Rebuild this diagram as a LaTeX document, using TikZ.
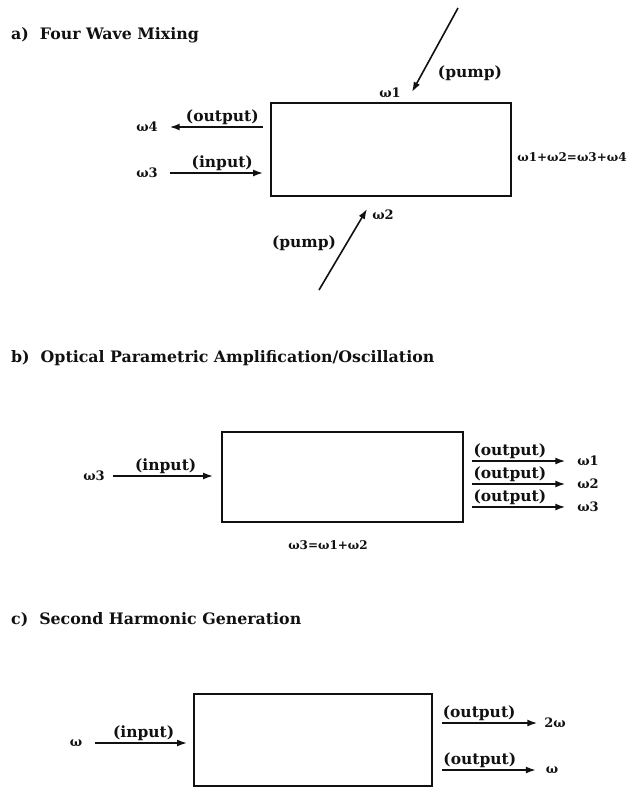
\documentclass[tikz,border=0pt]{standalone}
\usepackage{fontspec}
\setmainfont{DejaVu Serif}
\usetikzlibrary{arrows.meta, positioning}
\definecolor{ink}{HTML}{111111}
\tikzset{
  crystal/.style={draw=ink, line width=1.7pt, inner sep=0pt, outer sep=0pt},
  beam/.style={-{Latex[length=10pt, width=7pt]}, line width=1.6pt, draw=ink},
  ttl/.style={font=\fontsize{15.8}{18}\selectfont\bfseries, text=ink, anchor=west, inner sep=0pt},
  lbl/.style={font=\fontsize{15.5}{17}\selectfont\bfseries, text=ink, inner sep=1pt},
  wlbl/.style={font=\fontsize{13}{15}\selectfont\bfseries, text=ink, inner sep=0pt, outer sep=0pt},
  eqlbl/.style={font=\fontsize{12}{14}\selectfont\bfseries, text=ink, inner sep=0pt}
}
\begin{document}
\begin{tikzpicture}[x=1pt, y=-1pt]
  \useasboundingbox (0,0) rectangle (632,788);

  % ---- a) Four Wave Mixing ---------------------------------------------------
  \node[ttl] (ta) at (11,35) {a)\ \ Four Wave Mixing};
  \node[crystal, minimum width=240pt, minimum height=93pt] (boxA) at (391,149.5) {};
  \node[wlbl] (w4a) at (147,127) {ω4};
  \node[wlbl] (w3a) at (147,173) {ω3};
  \node[wlbl] (w1a) at (390,93) {ω1};
  \node[wlbl] (w2a) at (383,215) {ω2};
  \node[eqlbl] (eqa) at (572,157) {ω1+ω2=ω3+ω4};

  \draw[beam, shorten <=8pt, shorten >=12pt] (boxA.west |- w4a) --
        node[lbl, pos=0.43, above] {(output)} (w4a);
  \draw[beam, shorten <=12pt, shorten >=8pt] (w3a) --
        node[lbl, pos=0.57, above] {(input)} (boxA.west |- w3a);

  % ---- pump beams ------------------------------------------------------------
  \coordinate (pa1s) at (458,8);
  \coordinate (pa1e) at (412,92);
  \draw[beam] (pa1s) -- node[lbl, pos=0.78, right=14pt] {(pump)} (pa1e);
  \coordinate (pa2s) at (319,290);
  \coordinate (pa2e) at (367,209);
  \draw[beam] (pa2s) -- node[lbl, pos=0.58, left=9pt] {(pump)} (pa2e);

  % ---- b) Optical Parametric Amplification/Oscillation -----------------------
  \node[ttl] (tb) at (11,358) {b)\ \ Optical Parametric Amplification/Oscillation};
  \node[crystal, minimum width=241pt, minimum height=90pt] (boxB) at (342.5,477) {};
  \node[wlbl] (w3b) at (94,476) {ω3};
  \node[wlbl] (o1b) at (588,461) {ω1};
  \node[wlbl] (o2b) at (588,484) {ω2};
  \node[wlbl] (o3b) at (588,507) {ω3};
  \node[eqlbl] (eqb) at (328,545) {ω3=ω1+ω2};

  \draw[beam, shorten <=8pt, shorten >=9pt] (w3b) --
        node[lbl, pos=0.52, above] {(input)} (boxB.west |- w3b);
  \foreach \o in {o1b, o2b, o3b} {
    \draw[beam, shorten <=9pt, shorten >=12pt] (boxB.east |- \o) --
          node[lbl, pos=0.41, above] {(output)} (\o);
  }

  % ---- c) Second Harmonic Generation -----------------------------------------
  \node[ttl] (tc) at (11,620) {c)\ \ Second Harmonic Generation};
  \node[crystal, minimum width=238pt, minimum height=92pt] (boxC) at (313,740) {};
  \node[wlbl] (wc) at (76,743) {ω};
  \node[wlbl] (o1c) at (555,723) {2ω};
  \node[wlbl] (o2c) at (552,770) {ω};

  \draw[beam, shorten <=13pt, shorten >=7pt] (wc) --
        node[lbl, pos=0.55, above] {(input)} (boxC.west |- wc);
  \draw[beam, shorten <=10pt, shorten >=7pt] (boxC.east |- o1c) --
        node[lbl, pos=0.42, above] {(output)} (o1c);
  \draw[beam, shorten <=10pt, shorten >=10pt] (boxC.east |- o2c) --
        node[lbl, pos=0.42, above] {(output)} (o2c);

\end{tikzpicture}
\end{document}
